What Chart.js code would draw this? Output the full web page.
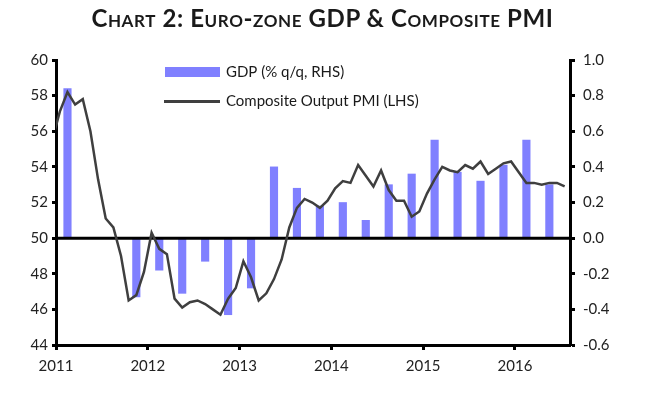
<!DOCTYPE html>
<html>
<head>
<meta charset="utf-8">
<script src="https://cdn.jsdelivr.net/npm/chart.js@4"></script>
<style>
  html, body { margin: 0; padding: 0; background: #fff; }
  #wrap { position: relative; width: 645px; height: 393px; }
  #title {
    position: absolute; left: 0; top: 3px; width: 645px; margin: 0;
    text-align: center; font: bold 24px Lato, sans-serif; font-variant: small-caps;
    letter-spacing: 0.6px; color: #1a1a1a;
  }
  canvas { position: absolute; left: 0; top: 0; }
</style>
</head>
<body>
<div id="wrap">
  <canvas id="chart" width="645" height="393"></canvas>
  <h1 id="title">Chart 2: Euro-zone GDP &amp; Composite PMI</h1>
</div>
<script>
// composite output PMI, monthly, Dec 2010 .. Jul 2016 (LHS)
const pmiStart = [2010, 12];
const pmiValues = [
  55.5,
  57.1, 58.2, 57.5, 57.8, 56.0, 53.3, 51.1, 50.6, 49.0, 46.5, 46.8, 48.1,
  50.3, 49.4, 49.1, 46.6, 46.1, 46.4, 46.5, 46.3, 46.0, 45.7, 46.6, 47.2,
  48.7, 47.8, 46.5, 46.9, 47.7, 48.8, 50.6, 51.7, 52.2, 52.0, 51.7, 52.1,
  52.8, 53.2, 53.1, 54.1, 53.5, 52.9, 53.8, 52.7, 52.1, 52.1, 51.2, 51.5,
  52.5, 53.3, 54.0, 53.8, 53.7, 54.1, 53.9, 54.3, 53.6, 53.9, 54.2, 54.3,
  53.7, 53.1, 53.1, 53.0, 53.1, 53.1, 52.9
];

// GDP % q/q, quarterly (RHS)
const gdpQuarters = [
  "2011Q1", "2011Q2", "2011Q3", "2011Q4",
  "2012Q1", "2012Q2", "2012Q3", "2012Q4",
  "2013Q1", "2013Q2", "2013Q3", "2013Q4",
  "2014Q1", "2014Q2", "2014Q3", "2014Q4",
  "2015Q1", "2015Q2", "2015Q3", "2015Q4",
  "2016Q1", "2016Q2"
];
const gdpValues = [
  0.84, 0.0, 0.0, -0.33,
  -0.18, -0.31, -0.13, -0.43,
  -0.28, 0.40, 0.28, 0.18,
  0.20, 0.10, 0.30, 0.36,
  0.55, 0.37, 0.32, 0.41,
  0.55, 0.30
];

const xTickYears = [2011, 2012, 2013, 2014, 2015, 2016];
const leftTicks = [44, 46, 48, 50, 52, 54, 56, 58, 60];
const rightTicks = [-0.6, -0.4, -0.2, 0.0, 0.2, 0.4, 0.6, 0.8, 1.0];

const legendItems = ["GDP (% q/q, RHS)", "Composite Output PMI (LHS)"];

// month index -> decimal year, plotted mid-month
const pmiPoints = pmiValues.map((v, i) => {
  const m = (pmiStart[0] * 12 + pmiStart[1] - 1) + i;
  return { x: Math.floor(m / 12) + ((m % 12) + 0.5) / 12, y: v };
});
// quarter -> decimal year, plotted mid-quarter
const gdpPoints = gdpValues.map((v, i) => {
  const q = gdpQuarters[i];
  return { x: +q.slice(0, 4) + (+q.slice(5) - 1) / 4 + 0.125, y: v };
});

const barColor = "#8080ff";
const lineColor = "#3f3f3f";
const tickFont = { family: "Lato, sans-serif", size: 15 };

const customLegend = {
  id: "customLegend",
  afterDatasetDraw(chart, args) {
    // thick zero line above the bars, under the PMI line
    if (args.meta.type !== "bar") return;
    const ctx = chart.ctx;
    const y = chart.scales.y.getPixelForValue(50);
    ctx.save();
    ctx.strokeStyle = "#000";
    ctx.lineWidth = 3;
    ctx.beginPath();
    ctx.moveTo(chart.chartArea.left, y);
    ctx.lineTo(chart.chartArea.right, y);
    ctx.stroke();
    ctx.restore();
  },
  afterDraw(chart) {
    const ctx = chart.ctx;
    ctx.save();
    ctx.fillStyle = barColor;
    ctx.fillRect(165, 67, 55, 10);
    ctx.strokeStyle = lineColor;
    ctx.lineWidth = 3;
    ctx.beginPath();
    ctx.moveTo(164, 101.5);
    ctx.lineTo(220, 101.5);
    ctx.stroke();
    ctx.fillStyle = "#1a1a1a";
    ctx.font = "15px Lato, sans-serif";
    ctx.textBaseline = "middle";
    ctx.fillText(legendItems[0], 226, 72);
    ctx.fillText(legendItems[1], 226, 101);
    ctx.restore();
  }
};

new Chart(document.getElementById("chart"), {
  data: {
    datasets: [
      {
        type: "line",
        label: legendItems[1],
        data: pmiPoints,
        yAxisID: "y",
        borderColor: lineColor,
        borderWidth: 2.5,
        pointRadius: 0,
        tension: 0,
      },
      {
        type: "bar",
        label: legendItems[0],
        data: gdpPoints,
        yAxisID: "y1",
        backgroundColor: barColor,
        barThickness: 7.5,
      },
    ],
  },
  options: {
    responsive: false,
    animation: false,
    layout: { padding: { top: 60 } },
    plugins: { legend: { display: false }, tooltip: { enabled: false } },
    scales: {
      x: {
        type: "linear",
        offset: false,
        min: 2011,
        max: 2016.6,
        afterFit: (s) => { s.height = 48; },
        afterBuildTicks: (s) => { s.ticks = xTickYears.map((v) => ({ value: v })); },
        ticks: {
          font: tickFont, color: "#222", padding: 7,
          callback: (v) => String(v),
        },
        grid: { offset: false, drawOnChartArea: false, drawTicks: true, tickLength: 5, tickWidth: 3, color: "#000" },
        border: { display: true, width: 3, color: "#000" },
      },
      y: {
        position: "left",
        min: 44,
        max: 60,
        afterFit: (s) => { s.width = 56; },
        afterBuildTicks: (s) => { s.ticks = leftTicks.map((v) => ({ value: v })); },
        ticks: { font: tickFont, color: "#222", padding: 4 },
        grid: { drawOnChartArea: false, drawTicks: true, tickLength: 4, tickWidth: 3, color: "#000" },
        border: { display: true, width: 3, color: "#000" },
      },
      y1: {
        position: "right",
        min: -0.6,
        max: 1.0,
        afterFit: (s) => { s.width = 75; },
        afterBuildTicks: (s) => { s.ticks = rightTicks.map((v) => ({ value: v })); },
        ticks: {
          font: tickFont, color: "#222", padding: 8,
          callback: (v) => v.toFixed(1),
        },
        grid: { drawOnChartArea: false, drawTicks: true, tickLength: 5, tickWidth: 3, color: "#000" },
        border: { display: true, width: 3, color: "#000" },
      },
    },
  },
  plugins: [customLegend],
});
</script>
</body>
</html>
